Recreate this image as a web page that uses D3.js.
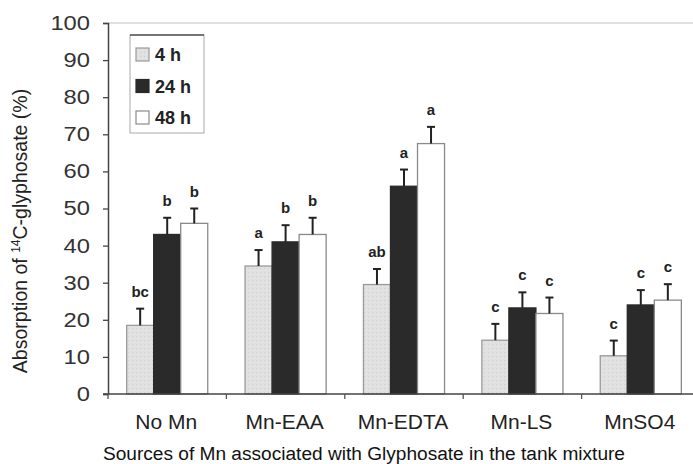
<!DOCTYPE html>
<html>
<head>
<meta charset="utf-8">
<script src="https://cdn.jsdelivr.net/npm/d3@7"></script>
<style>
  html, body { margin: 0; padding: 0; background: #fff; }
  svg { display: block; font-family: Arial, "Liberation Sans", sans-serif; }
</style>
</head>
<body>
<svg id="chart" width="693" height="464"></svg>
<script>
// Mn sources and sampling times
const categories = ["No Mn", "Mn-EAA", "Mn-EDTA", "Mn-LS", "MnSO4"];
const times = ["4 h", "24 h", "48 h"];

// Mean absorption (%) per time, one value per Mn source
const values4h  = [18.5, 34.5, 29.5, 14.5, 10.3];
const values24h = [43.0, 41.0, 56.0, 23.2, 24.0];
const values48h = [46.0, 43.0, 67.5, 21.7, 25.3];

// Upper end of the error bars
const err4h  = [23.0, 38.8, 33.7, 18.9, 14.4];
const err24h = [47.5, 45.5, 60.5, 27.4, 28.0];
const err48h = [50.0, 47.5, 72.0, 26.0, 29.6];

// Significance letters
const letters4h  = ["bc", "a", "ab", "c", "c"];
const letters24h = ["b", "b", "a", "c", "c"];
const letters48h = ["b", "b", "a", "c", "c"];

const yTicks = [0, 10, 20, 30, 40, 50, 60, 70, 80, 90, 100];

const series = [
  { key: times[0], values: values4h,  err: err4h,  letters: letters4h,  fill: "url(#stipple)", stroke: "#9a9a9a" },
  { key: times[1], values: values24h, err: err24h, letters: letters24h, fill: "#2a2a2a",     stroke: "#2a2a2a" },
  { key: times[2], values: values48h, err: err48h, letters: letters48h, fill: "#ffffff",     stroke: "#8a8a8a" }
];

const svg = d3.select("#chart");
const W = 693;
const plotLeft = 108, plotTop = 23, plotRight = 700, baseY = 394;

// light stipple for the 4 h bars
const defs = svg.append("defs");
const pat = defs.append("pattern").attr("id", "stipple")
  .attr("patternUnits", "userSpaceOnUse").attr("width", 4).attr("height", 4);
pat.append("rect").attr("width", 4).attr("height", 4).attr("fill", "#e0e0e0");
pat.append("rect").attr("x", 0).attr("y", 0).attr("width", 1).attr("height", 1).attr("fill", "#d0d0d0");
pat.append("rect").attr("x", 2).attr("y", 2).attr("width", 1).attr("height", 1).attr("fill", "#eaeaea");

const x = d3.scaleBand().domain(categories).range([plotLeft, plotRight]);
const xs = d3.scaleBand().domain(times).range([0, x.bandwidth()]).paddingInner(0).paddingOuter(0.69);
const y = d3.scaleLinear().domain([0, 100]).range([baseY, plotTop]);

// plot-area top border
svg.append("line")
  .attr("x1", plotLeft).attr("x2", W)
  .attr("y1", y(100)).attr("y2", y(100))
  .attr("stroke", "#d6d6d6").attr("stroke-width", 1.5);

// bars
const groups = svg.append("g").selectAll("g").data(series).join("g");
groups.selectAll("rect")
  .data(s => s.values.map((v, i) => ({ s, v, c: categories[i] })))
  .join("rect")
  .attr("x", d => x(d.c) + xs(d.s.key))
  .attr("y", d => y(d.v))
  .attr("width", xs.bandwidth())
  .attr("height", d => y(0) - y(d.v))
  .attr("fill", d => d.s.fill)
  .attr("stroke", d => d.s.stroke)
  .attr("stroke-width", 1.3);

// error bars (upper half only)
const errG = svg.append("g").attr("stroke", "#222").attr("stroke-width", 2);
series.forEach(s => {
  s.values.forEach((v, i) => {
    const cx = x(categories[i]) + xs(s.key) + xs.bandwidth() / 2;
    errG.append("line").attr("x1", cx).attr("x2", cx).attr("y1", y(v)).attr("y2", y(s.err[i]));
    errG.append("line").attr("x1", cx - 4).attr("x2", cx + 4).attr("y1", y(s.err[i])).attr("y2", y(s.err[i]));
  });
});

// significance letters
const letG = svg.append("g").attr("font-size", 15).attr("font-weight", "bold").attr("fill", "#222").attr("text-anchor", "middle");
series.forEach(s => {
  s.values.forEach((v, i) => {
    const cx = x(categories[i]) + xs(s.key) + xs.bandwidth() / 2;
    letG.append("text").attr("x", cx).attr("y", y(s.err[i]) - 12).text(s.letters[i]);
  });
});

// y axis
const yAxis = d3.axisLeft(y).tickValues(yTicks).tickSize(5).tickPadding(13);
const gy = svg.append("g").attr("transform", `translate(${plotLeft},0)`).call(yAxis);
gy.select(".domain").attr("stroke", "#444").attr("stroke-width", 1.5);
gy.selectAll(".tick line").attr("stroke", "#444").attr("stroke-width", 1.3);
gy.selectAll(".tick text")
  .attr("font-size", 20).attr("fill", "#333")
  .attr("font-family", "Arial, 'Liberation Sans', sans-serif")
  .attr("textLength", d => String(d).length * 13.2)
  .attr("lengthAdjust", "spacingAndGlyphs");

// x axis baseline with ticks at category boundaries
svg.append("line").attr("x1", plotLeft - 5).attr("x2", W)
  .attr("y1", baseY).attr("y2", baseY).attr("stroke", "#444").attr("stroke-width", 1.5);
const bounds = categories.map(c => x(c));
svg.append("g").selectAll("line").data(bounds).join("line")
  .attr("x1", d => d).attr("x2", d => d)
  .attr("y1", baseY).attr("y2", baseY + 5)
  .attr("stroke", "#555").attr("stroke-width", 1.3);

// category labels
svg.append("g").selectAll("text").data(categories).join("text")
  .attr("x", d => x(d) + x.bandwidth() / 2 - 1)
  .attr("y", 429)
  .attr("text-anchor", "middle")
  .attr("font-size", 21)
  .attr("fill", "#222")
  .text(d => d);

// x title
svg.append("text")
  .attr("x", 103).attr("y", 460)
  .attr("font-size", 18)
  .attr("fill", "#111")
  .attr("textLength", 522).attr("lengthAdjust", "spacingAndGlyphs")
  .text("Sources of Mn associated with Glyphosate in the tank mixture");

// y title
const yt = svg.append("text")
  .attr("transform", `translate(27,${231}) rotate(-90)`)
  .attr("text-anchor", "middle")
  .attr("font-size", 19.5)
  .attr("fill", "#222");
yt.append("tspan").text("Absorption of ");
yt.append("tspan").attr("font-size", 12).attr("dy", -7).text("14");
yt.append("tspan").attr("dy", 7).text("C-glyphosate (%)");

// legend
const lg = svg.append("g").attr("transform", "translate(130,35)");
lg.append("rect").attr("width", 74).attr("height", 98)
  .attr("fill", "#fff").attr("stroke", "#aaa").attr("stroke-width", 1);
lg.append("line").attr("x1", 0).attr("x2", 74).attr("y1", 0).attr("y2", 0)
  .attr("stroke", "#555").attr("stroke-width", 1.5);
const items = lg.selectAll("g.item").data(series).join("g")
  .attr("class", "item")
  .attr("transform", (d, i) => `translate(6,${13 + i * 31.5})`);
items.append("rect").attr("width", 13).attr("height", 13)
  .attr("fill", d => d.fill).attr("stroke", d => d.stroke).attr("stroke-width", 1.2);
items.append("text").attr("x", 19).attr("y", 13)
  .attr("font-size", 18).attr("font-weight", "bold").attr("fill", "#222")
  .text(d => d.key);
</script>
</body>
</html>
